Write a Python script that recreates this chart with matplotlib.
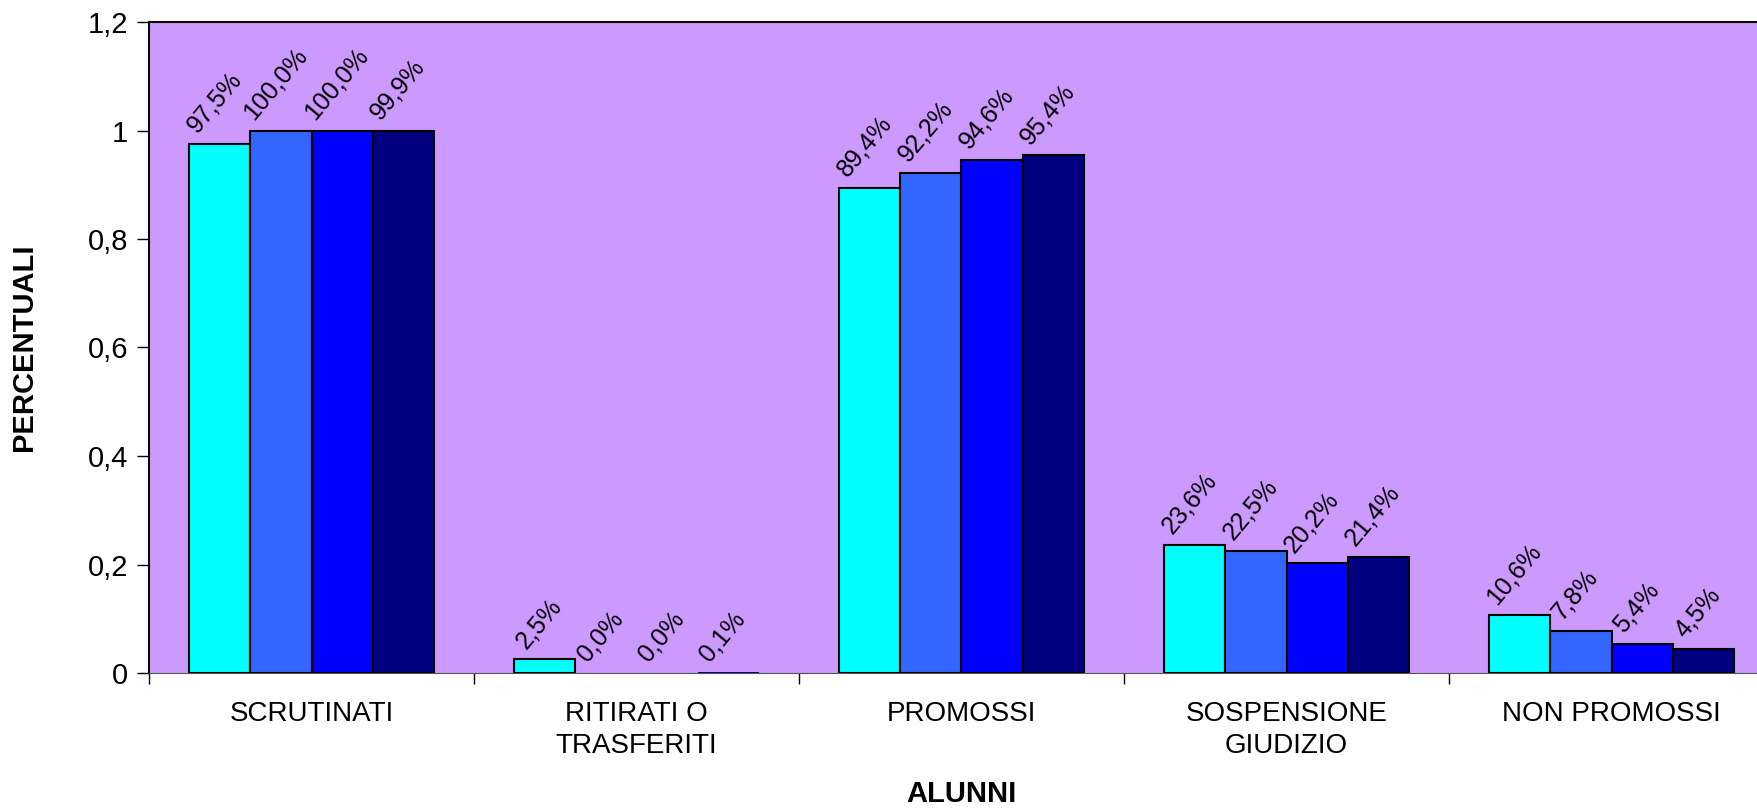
import matplotlib.pyplot as plt
import numpy as np
from matplotlib.ticker import FixedLocator, FuncFormatter

plt.rcParams['font.family'] = ['Liberation Sans', 'DejaVu Sans']

categorie = ["SCRUTINATI", "RITIRATI O\nTRASFERITI", "PROMOSSI",
             "SOSPENSIONE\nGIUDIZIO", "NON PROMOSSI"]

# quattro serie (valori come frazione)
serie_1 = [0.975, 0.025, 0.894, 0.236, 0.106]
serie_2 = [1.000, 0.000, 0.922, 0.225, 0.078]
serie_3 = [1.000, 0.000, 0.946, 0.202, 0.054]
serie_4 = [0.999, 0.001, 0.954, 0.214, 0.045]

serie = [serie_1, serie_2, serie_3, serie_4]
colori = ["#00FFFF", "#3366FF", "#0000FF", "#000080"]

fig = plt.figure(figsize=(17.58, 8.11), dpi=100)
# l'area del grafico esce un po' a destra, come nell'originale
ax = fig.add_axes([149 / 1758, 1 - 673 / 811, 1625 / 1758, 651 / 811])
ax.set_facecolor("#CC99FF")

x = np.arange(len(categorie))
larg = 0.188

for k, (vals, col) in enumerate(zip(serie, colori)):
    pos = x + (k - 1.5) * larg
    # barre quasi nulle senza bordo (in Excel non si vedono)
    lw = [1.5 if v >= 0.005 else 0 for v in vals]
    bars = ax.bar(pos, vals, width=larg, color=col, edgecolor="black", linewidth=lw, zorder=2)
    for b, v in zip(bars, vals):
        testo = f"{v * 100:.1f}%".replace(".", ",")
        ax.annotate(testo, (b.get_x() + b.get_width() / 2, b.get_height()),
                    xytext=(-4, 5), textcoords="offset points",
                    rotation=50, ha="center", va="bottom", fontsize=18)

ax.set_xlim(-0.5, len(categorie) - 0.5)
ax.set_ylim(0, 1.2)
ax.set_yticks(np.arange(0, 1.21, 0.2))
ax.yaxis.set_major_formatter(FuncFormatter(lambda v, p: f"{v:.1f}".replace(".", ",").replace(",0", "")))
ax.tick_params(axis="y", direction="out", length=9, width=1, labelsize=21, pad=6)

ax.set_xticks(x)
ax.set_xticklabels(categorie, fontsize=20, linespacing=1.3)
ax.xaxis.set_minor_locator(FixedLocator(np.arange(-0.5, len(categorie), 1.0)))
ax.tick_params(axis="x", which="major", length=0, pad=20)
ax.tick_params(axis="x", which="minor", direction="out", length=8, width=1)

for s in ["left", "top"]:
    ax.spines[s].set_color("black")
    ax.spines[s].set_linewidth(1.5)
ax.spines["bottom"].set_color("#555555")
ax.spines["right"].set_visible(False)

ax.set_xlabel("ALUNNI", fontsize=21, fontweight="bold", labelpad=15)
ax.set_ylabel("PERCENTUALI", fontsize=21, fontweight="bold", labelpad=36)

fig.savefig("out.png", dpi=100)
